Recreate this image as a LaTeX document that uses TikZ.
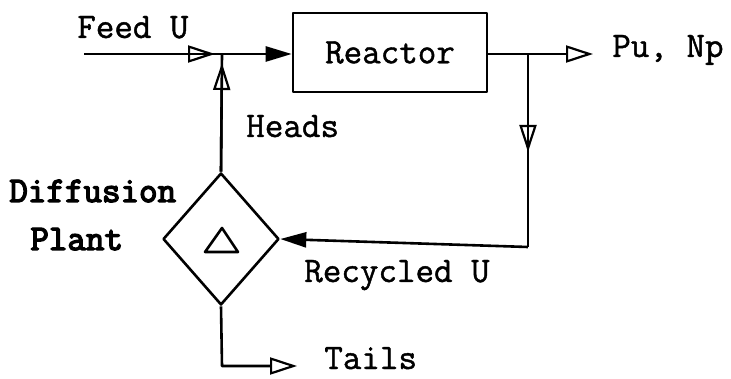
\documentclass[tikz,border=0pt]{standalone}
\usepackage{fontspec}
\newfontfamily\typewr{Latin Modern Mono}[UprightFeatures={FakeBold=1.2}]
\newfontfamily\typewrbf{Latin Modern Mono}[UprightFeatures={FakeBold=4}]
\usetikzlibrary{arrows.meta, shapes.geometric}

\begin{document}
\begin{tikzpicture}[x=1pt, y=-1pt, line width=2.6pt, line join=round,
        every node/.style={font=\fontsize{36}{40}\selectfont\typewr},
        lbl/.style={anchor=base west, inner sep=0pt},
        boldlbl/.style={lbl, font=\fontsize{36}{40}\selectfont\typewrbf},
        opentip/.style={-{Triangle[open, length=27pt, width=17pt, line width=2.2pt]}},
        fulltip/.style={-{Triangle[length=26pt, width=15pt]}}]

    \useasboundingbox (0,0) rectangle (731,379);

    % --- bloki ---
    \node[draw, minimum width=194pt, minimum height=79pt, inner sep=0pt] (reactor) at (390,52.5) {Reactor};
    \node[draw, diamond, minimum width=116pt, minimum height=132pt, inner sep=0pt] (plant) at (221,239) {};
    \draw ([shift={(-16,13)}]plant.center) -- ([shift={(1,-11)}]plant.center)
        -- ([shift={(17,13)}]plant.center) -- cycle;

    % --- punkty ---
    \coordinate (feed) at (84,54);
    \coordinate (junc) at (222,54);
    \coordinate (pu)   at (593,54);
    \coordinate (br)   at (528,54);
    \coordinate (rc)   at (528,247);
    \coordinate (tc)   at (222,366);
    \coordinate (tails) at (297,366);

    % --- zasilanie ---
    \draw (feed) -- (junc);
    \draw[opentip, shorten >=7pt] (feed) -- (junc);
    \draw[fulltip] (junc) -- (reactor.west |- junc);

    % --- produkt ---
    \draw[opentip] (reactor.east |- pu) -- (pu);

    % --- zawrot ---
    \draw (br) -- (rc);
    \draw[opentip, shorten >=95pt] (br) -- (rc);
    \draw[fulltip] (rc) -- (plant.east);

    % --- heads / tails ---
    \draw (plant.north) -- (junc);
    \draw[opentip, shorten >=9pt] (plant.north) -- (junc);
    \draw[opentip] (plant.south) -- (tc) -- (tails);

    % --- opisy ---
    \node[lbl] (feedlbl)  at (76,38)   {Feed U};
    \node[lbl] (pulbl)    at (611,57)  {Pu, Np};
    \node[lbl] (headslbl) at (245,137) {Heads};
    \node[boldlbl] (difflbl)  at (8,202)  {Diffusion};
    \node[boldlbl] (plantlbl) at (29,250) {Plant};
    \node[lbl] (reclbl)   at (303,282) {Recycled U};
    \node[lbl] (tailslbl) at (323,369) {Tails};

\end{tikzpicture}
\end{document}
